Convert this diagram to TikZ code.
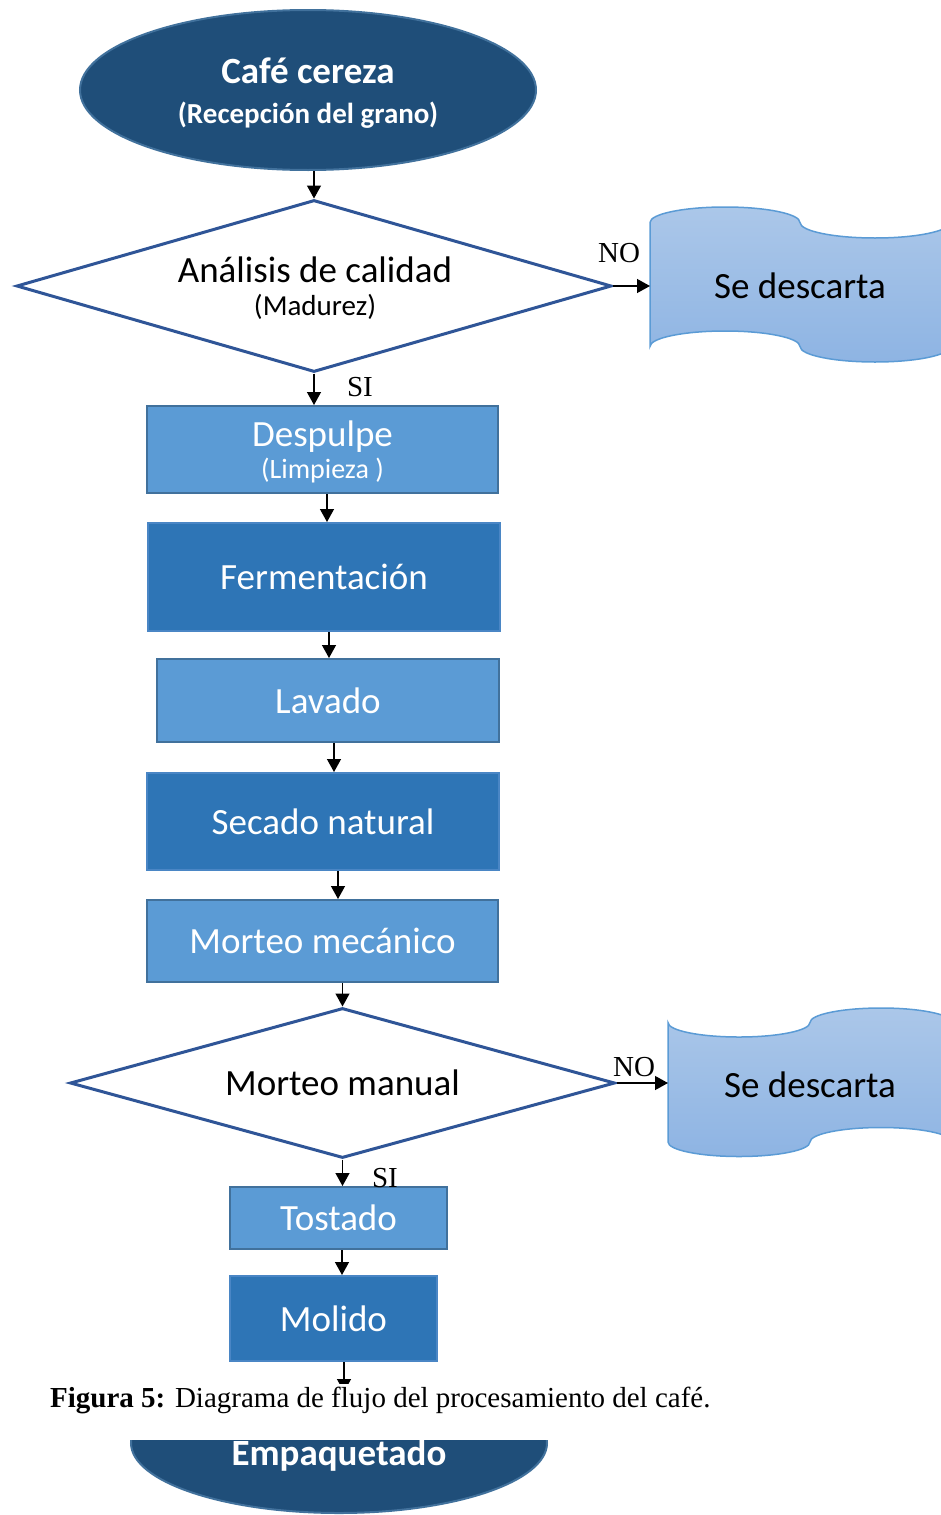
\documentclass[tikz,border=0pt]{standalone}
\usepackage{fontspec}
\setmainfont{Carlito}
\newfontfamily\capfont{Liberation Serif}
\usetikzlibrary{shapes.geometric,arrows.meta}
\definecolor{ellfill}{HTML}{1F4E79}
\definecolor{ellborder}{HTML}{41719C}
\definecolor{lightfill}{HTML}{5B9BD5}
\definecolor{lightborder}{HTML}{41719C}
\definecolor{darkfill}{HTML}{2E75B6}
\definecolor{darkborder}{HTML}{4A86C5}
\definecolor{decborder}{HTML}{2F5597}
\definecolor{tapetop}{HTML}{ABC7E9}
\definecolor{tapebot}{HTML}{8EB4E3}
\definecolor{tapeborder}{HTML}{5B9BD5}
\begin{document}
\begin{tikzpicture}[x=1pt,y=-1pt,
  arr/.style={draw=black, line width=1.3pt, -{Triangle[length=13pt,width=14pt]}},
  procbox/.style={rectangle, line width=2pt, text=white, inner sep=0pt, align=center,
    font=\fontsize{37}{32}\selectfont},
  lbox/.style={procbox, fill=lightfill, draw=lightborder},
  dbox/.style={procbox, fill=darkfill, draw=darkborder},
  decision/.style={diamond, draw=decborder, line width=3pt, fill=white, inner sep=0pt,
    align=center, font=\fontsize{37}{33}\selectfont},
  termin/.style={ellipse, fill=ellfill, draw=ellborder, line width=2pt, inner sep=0pt,
    text=white, align=center},
  tape/.style={draw=tapeborder, line width=1.5pt, top color=tapetop, bottom color=tapebot},
  tapetext/.style={font=\fontsize{37}{37}\selectfont, text=black},
  lab/.style={font=\capfont\fontsize{29}{30}\selectfont, inner sep=0pt}
]
\useasboundingbox (0,0) rectangle (941,1515);
\clip (0,0) rectangle (941,1515);

% start terminal
\node[termin, minimum width=456pt, minimum height=160pt] (e1) at (308,90) {};
\node[text=white, align=center, font=\bfseries\fontsize{37}{40}\selectfont] (e1t) at (308,93)
  {Café cereza\\{\fontsize{29}{40}\selectfont(Recepción del grano)}};

% decision 1
\node[decision, aspect=3.46, minimum width=595pt, minimum height=172pt] (d1) at (314,286) {};
\node[align=center, font=\fontsize{37}{33}\selectfont] (d1t) at (315,288)
  {Análisis de calidad\\{\fontsize{29}{33}\selectfont(Madurez)}};

% tape 1
\draw[tape] (650,222.5) arc[start angle=180, end angle=360, x radius=75, y radius=15.5]
  arc[start angle=180, end angle=0, x radius=75, y radius=15.5]
  -- (950,346.5)
  arc[start angle=0, end angle=180, x radius=75, y radius=15.5]
  arc[start angle=0, end angle=-180, x radius=75, y radius=15.5] -- cycle;
\node[tapetext] (t1) at (800,286) {Se descarta};
\coordinate (t1w) at (650,286);

% process boxes
\node[lbox, minimum width=351pt, minimum height=87pt] (b1) at (322.5,449.5) {};
\node[align=center, text=white, font=\fontsize{37}{32}\selectfont] (b1t) at (322.5,452)
  {Despulpe\\{\fontsize{28}{32}\selectfont(Limpieza )}};
\node[dbox, minimum width=352pt, minimum height=108pt] (b2) at (324,577) {Fermentación};
\node[lbox, minimum width=342pt, minimum height=83pt] (b3) at (328,700.5) {Lavado};
\node[dbox, minimum width=352pt, minimum height=97pt] (b4) at (323,821.5) {Secado natural};
\node[lbox, minimum width=351pt, minimum height=82pt] (b5) at (322.5,941) {Morteo mecánico};

% decision 2
\node[decision, aspect=3.63, minimum width=545pt, minimum height=150pt] (d2) at (342.5,1083) {Morteo manual};

% tape 2
\draw[tape] (668,1022.5) arc[start angle=180, end angle=0, x radius=71, y radius=14.5]
  arc[start angle=180, end angle=360, x radius=71, y radius=14.5]
  -- (952,1142)
  arc[start angle=0, end angle=-180, x radius=71, y radius=14.5]
  arc[start angle=0, end angle=180, x radius=71, y radius=14.5] -- cycle;
\node[tapetext] (t2) at (810,1085) {Se descarta};
\coordinate (t2w) at (668,1083);

\node[lbox, minimum width=217pt, minimum height=62pt] (b6) at (338.5,1218) {Tostado};
\node[dbox, minimum width=207pt, minimum height=85pt] (b7) at (333.5,1318.5) {Molido};

% connectors
\draw[arr] (d1.north |- e1.south) -- (d1.north);
\draw[arr] (d1.south) -- (d1.south |- b1.north);
\draw[arr] (d1.east) -- (t1w);
\draw[arr] ([xshift=4.5pt]b1.south) -- ([xshift=4.5pt]b1.south |- b2.north);
\draw[arr] ([xshift=5pt]b2.south) -- ([xshift=5pt]b2.south |- b3.north);
\draw[arr] ([xshift=6pt]b3.south) -- ([xshift=6pt]b3.south |- b4.north);
\draw[arr] ([xshift=15pt]b4.south) -- ([xshift=15pt]b4.south |- b5.north);
\draw[arr] (d2.north |- b5.south) -- (d2.north);
\draw[arr] (d2.south) -- (d2.south |- b6.north);
\draw[arr] (d2.east) -- (t2w);
\draw[arr] ([xshift=3.5pt]b6.south) -- ([xshift=3.5pt]b6.south |- b7.north);
\coordinate (endtip) at (344,1392);
\begin{scope}
  \clip (0,1355) rectangle (941,1383);
  \draw[arr] (b7.south -| endtip) -- (endtip);
\end{scope}

% labels
\node[lab] (no1) at (619,253) {NO};
\node[lab] (si1) at (360,387) {SI};
\node[lab] (no2) at (634,1067) {NO};
\node[lab] (si2) at (385,1178) {SI};

% caption
\node[lab, anchor=west] (cap) at (50,1400)
  {\textbf{Figura 5:} Diagrama de flujo del procesamiento del café.};

% end terminal (cut by the caption)
\begin{scope}
  \clip (0,1440) rectangle (941,1515);
  \node[termin, minimum width=416pt, minimum height=140pt] (e2) at (339,1443) {};
\end{scope}
\node[text=white, font=\bfseries\fontsize{37}{37}\selectfont] (e2t) at (339,1455) {Empaquetado};
\end{tikzpicture}
\end{document}
